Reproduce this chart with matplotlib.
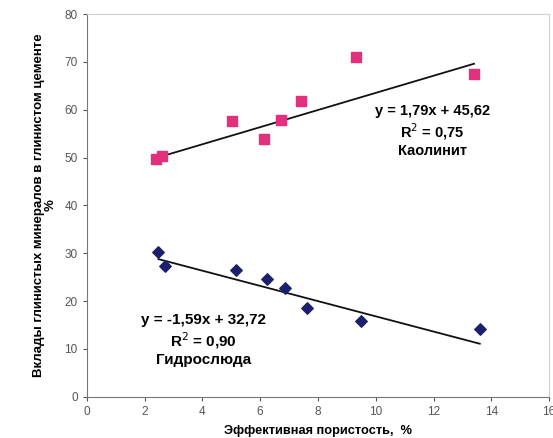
import numpy as np
import matplotlib.pyplot as plt

plt.rcParams['font.family'] = ['Liberation Sans', 'DejaVu Sans']

# Каолинит
kaol_x = [2.38, 2.59, 5.03, 6.14, 6.72, 7.41, 9.31, 13.4]
kaol_y = [49.6, 50.4, 57.7, 53.8, 57.9, 61.9, 71.1, 67.4]
kaol_fit = (1.79, 45.62)

# Гидрослюда
hydro_x = [2.48, 2.69, 5.17, 6.24, 6.86, 7.62, 9.48, 13.6]
hydro_y = [30.3, 27.4, 26.6, 24.7, 22.8, 18.6, 15.9, 14.2]
hydro_fit = (-1.59, 32.72)

xticks = np.arange(0, 17, 2)
yticks = np.arange(0, 81, 10)

fig = plt.figure(figsize=(5.53, 4.38), dpi=100)
ax = fig.add_axes([0.157, 0.094, 0.836, 0.874])

ax.scatter(kaol_x, kaol_y, marker='s', s=45, color='#e2307c', zorder=3)
ax.scatter(hydro_x, hydro_y, marker='D', s=34, color='#1c1f6b', zorder=3)

# линии тренда
for xs, (k, b) in [(kaol_x, kaol_fit), (hydro_x, hydro_fit)]:
    xx = np.array([min(xs), max(xs)])
    ax.plot(xx, k * xx + b, color='#111111', lw=1.3, zorder=2)

ax.set_xlim(0, 16)
ax.set_ylim(0, 80)
ax.set_xticks(xticks)
ax.set_yticks(yticks)
ax.tick_params(colors='#555555', labelsize=8.5, length=3, width=0.8)
for s in ['left', 'bottom']:
    ax.spines[s].set_color('#777777')
for s in ['top', 'right']:
    ax.spines[s].set_color('#d0d0d0')

ax.set_xlabel('Эффективная пористость,  %', fontsize=9.2, fontweight='bold', labelpad=5)
ax.set_ylabel('Вклады глинистых минералов в глинистом цементе\n%', fontsize=9.5,
              fontweight='bold', labelpad=6, linespacing=0.9)

ax.text(11.97, 55.6, 'y = 1,79x + 45,62\nR$^2$ = 0,75\nКаолинит', ha='center', va='center',
        fontsize=10.5, fontweight='bold', linespacing=1.2)
ax.text(4.03, 11.9, 'y = -1,59x + 32,72\nR$^2$ = 0,90\nГидрослюда', ha='center', va='center',
        fontsize=11, fontweight='bold', linespacing=1.2)

plt.savefig('out.png', dpi=100)
